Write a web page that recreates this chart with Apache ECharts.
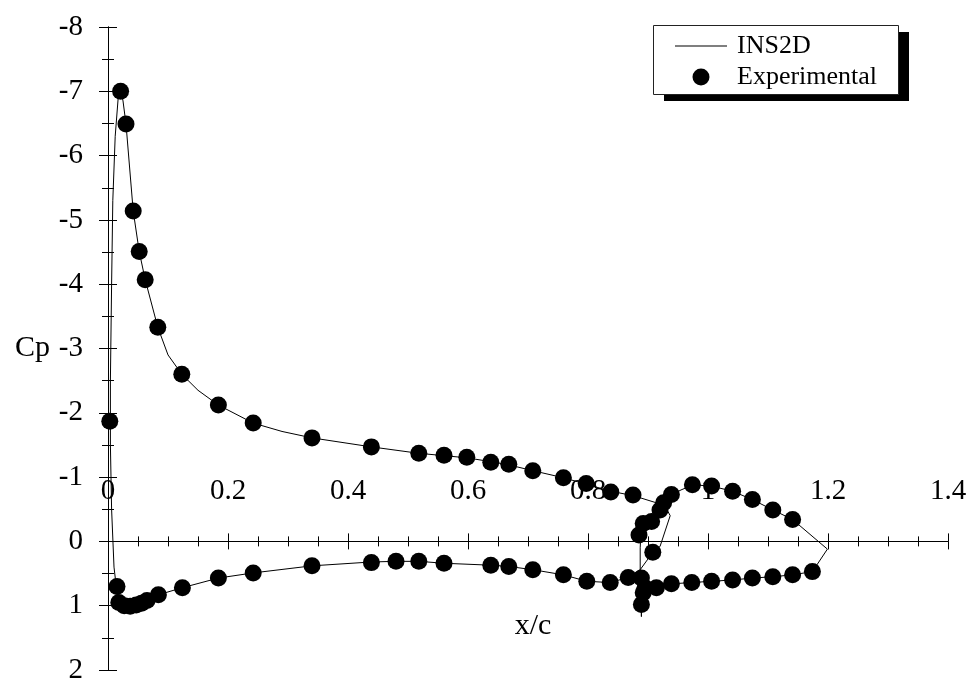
<!DOCTYPE html>
<html>
<head>
<meta charset="utf-8">
<title>Pressure distribution, main element and flap</title>
<script src="https://cdn.jsdelivr.net/npm/echarts@6/dist/echarts.min.js"></script>
<style>
  html, body { margin: 0; padding: 0; background: #ffffff; }
  #chart { width: 975px; height: 681px; }
</style>
</head>
<body>
<div id="chart"></div>
<script>
// Axis ranges and tick spacing
const xTicks = { min: 0, max: 1.4, interval: 0.2 };
const cpTicks = { min: -8, max: 2, interval: 1 };

// INS2D computed Cp around the main element (lower surface from trailing edge, round the nose, back along upper surface)
const ins2dMain = [
  [0.937, -0.40], [0.920, 0.08], [0.908, 0.17], [0.887, 0.44], [0.867, 0.56],
  [0.837, 0.64], [0.798, 0.62], [0.759, 0.52], [0.708, 0.44], [0.668, 0.39],
  [0.638, 0.37], [0.560, 0.34], [0.518, 0.31], [0.480, 0.31], [0.439, 0.32],
  [0.340, 0.38], [0.242, 0.49], [0.184, 0.57], [0.124, 0.72], [0.084, 0.83],
  [0.060, 0.94], [0.040, 1.00], [0.025, 0.99], [0.015, 0.80], [0.010, 0.40],
  [0.006, -0.50], [0.004, -1.50], [0.004, -2.50], [0.006, -4.00], [0.008, -5.30],
  [0.012, -6.30], [0.017, -6.90], [0.021, -7.03], [0.025, -6.85], [0.030, -6.49],
  [0.042, -5.14], [0.052, -4.51], [0.062, -4.07], [0.083, -3.33], [0.100, -2.90],
  [0.123, -2.60], [0.150, -2.35], [0.184, -2.12], [0.242, -1.84], [0.290, -1.71],
  [0.340, -1.61], [0.439, -1.47], [0.518, -1.37], [0.598, -1.30], [0.638, -1.24],
  [0.668, -1.19], [0.708, -1.10], [0.759, -0.99], [0.797, -0.89], [0.838, -0.78],
  [0.876, -0.71], [0.914, -0.60], [0.930, -0.52], [0.937, -0.40]
];

// INS2D computed Cp around the flap (from the stagnation point, upper surface first)
const ins2dFlap = [
  [0.889, 1.17], [0.888, 0.90], [0.887, 0.50], [0.887, 0.10], [0.888, -0.10],
  [0.893, -0.25], [0.905, -0.33], [0.918, -0.47], [0.928, -0.62], [0.940, -0.73],
  [0.955, -0.80], [0.975, -0.88], [1.006, -0.86], [1.041, -0.78], [1.074, -0.65],
  [1.108, -0.49], [1.141, -0.34], [1.199, 0.12], [1.174, 0.47], [1.141, 0.52],
  [1.108, 0.55], [1.074, 0.57], [1.041, 0.60], [1.006, 0.62], [0.973, 0.64],
  [0.939, 0.66], [0.914, 0.70], [0.897, 0.72], [0.890, 0.85], [0.889, 1.17]
];

// Measured pressure taps: main element upper surface
const expMainUpper = [
  [0.003, -1.87], [0.021, -7.00], [0.030, -6.49], [0.042, -5.14], [0.052, -4.51],
  [0.062, -4.07], [0.083, -3.33], [0.123, -2.60], [0.184, -2.12], [0.242, -1.84],
  [0.340, -1.61], [0.439, -1.47], [0.518, -1.37], [0.560, -1.34], [0.598, -1.31],
  [0.638, -1.23], [0.668, -1.20], [0.708, -1.10], [0.759, -0.99], [0.797, -0.90],
  [0.838, -0.77], [0.875, -0.72]
];

// Measured pressure taps: main element lower surface
const expMainLower = [
  [0.015, 0.70], [0.018, 0.95], [0.027, 1.00], [0.037, 1.01], [0.047, 0.99],
  [0.056, 0.96], [0.065, 0.92], [0.084, 0.83], [0.124, 0.72], [0.184, 0.57],
  [0.242, 0.49], [0.340, 0.38], [0.439, 0.33], [0.480, 0.31], [0.518, 0.31],
  [0.560, 0.34], [0.638, 0.37], [0.668, 0.39], [0.708, 0.44], [0.759, 0.52],
  [0.798, 0.62], [0.837, 0.64], [0.867, 0.56], [0.908, 0.17]
];

// Measured pressure taps: flap upper and lower surfaces
const expFlapUpper = [
  [0.885, -0.10], [0.892, -0.28], [0.906, -0.31], [0.920, -0.49], [0.926, -0.60],
  [0.939, -0.73], [0.974, -0.88], [1.006, -0.86], [1.041, -0.78], [1.074, -0.65],
  [1.108, -0.49], [1.141, -0.34]
];
const expFlapLower = [
  [0.889, 0.98], [0.892, 0.80], [0.889, 0.57], [0.895, 0.72], [0.914, 0.72],
  [0.939, 0.66], [0.973, 0.64], [1.006, 0.62], [1.041, 0.60], [1.074, 0.57],
  [1.108, 0.55], [1.141, 0.52], [1.174, 0.47]
];

const serif = '"Liberation Serif", "Times New Roman", serif';
const ink = '#000000';

// Plot area inside the 975 x 681 canvas
const gridBox = { left: 108, right: 27, top: 27, bottom: 11 };
const plotHeight = 681 - gridBox.top - gridBox.bottom;
// Lift of the labelled x axis from the bottom edge (Cp = 2) up to the Cp = 0 line
const zeroLift = plotHeight * (cpTicks.max - 0) / (cpTicks.max - cpTicks.min);

// Legend frame: a white box with a hard black drop shadow
const legendBox = { left: 653, top: 25, width: 245, height: 69, shadowDx: 11, shadowDy: 7 };

const chart = echarts.init(document.getElementById('chart'), null, { renderer: 'canvas' });

const xLineOnZero = { show: true, onZero: true, onZeroAxisIndex: 0, lineStyle: { color: ink, width: 1 } };
const yLine = { show: true, onZero: false, lineStyle: { color: ink, width: 1 } };

chart.setOption({
  backgroundColor: '#ffffff',
  animation: false,
  grid: Object.assign({ containLabel: false, outerBoundsMode: 'none' }, gridBox),
  graphic: [
    {
      type: 'rect', z: 5, silent: true,
      shape: { x: legendBox.left + legendBox.shadowDx, y: legendBox.top + legendBox.shadowDy,
               width: legendBox.width, height: legendBox.height },
      style: { fill: '#000000' }
    },
    {
      type: 'rect', z: 6, silent: true,
      shape: { x: legendBox.left + 0.5, y: legendBox.top + 0.5,
               width: legendBox.width, height: legendBox.height },
      style: { fill: '#ffffff', stroke: '#222222', lineWidth: 1 }
    }
  ],
  legend: {
    z: 10,
    orient: 'vertical',
    left: legendBox.left,
    top: legendBox.top,
    padding: [8, 17, 4, 22],
    itemGap: 5,
    itemWidth: 52,
    itemHeight: 17,
    textStyle: { fontFamily: serif, fontSize: 26, color: ink, padding: [0, 0, 0, 5] },
    data: [
      { name: 'INS2D', icon: 'path://M0,0L52,0L52,1L0,1Z' },
      { name: 'Experimental', icon: 'circle' }
    ]
  },
  xAxis: [
    {
      // Axis carrying the data; sits on Cp = 0 with ticks pointing up
      type: 'value',
      position: 'bottom',
      min: xTicks.min, max: xTicks.max, interval: xTicks.interval,
      axisLine: xLineOnZero,
      axisTick: { show: true, inside: true, length: 8, lineStyle: { color: ink } },
      minorTick: { show: true, splitNumber: 4, length: 5, lineStyle: { color: ink } },
      axisLabel: { show: false },
      splitLine: { show: false }
    },
    {
      // Labelled axis on the same line: labels above, ticks pointing down, title below
      type: 'value',
      position: 'bottom',
      offset: -zeroLift,
      min: xTicks.min, max: xTicks.max, interval: xTicks.interval,
      name: 'x/c',
      nameLocation: 'middle',
      nameGap: 70,
      nameTextStyle: { fontFamily: serif, fontSize: 30, color: ink, padding: [0, 0, 0, 10] },
      axisLine: { show: true, onZero: false, lineStyle: { color: ink, width: 1 } },
      axisTick: { show: true, length: 8, lineStyle: { color: ink } },
      minorTick: { show: true, splitNumber: 4, length: 5, lineStyle: { color: ink } },
      axisLabel: { inside: true, fontFamily: serif, fontSize: 29, color: ink, margin: 36 },
      splitLine: { show: false }
    }
  ],
  yAxis: [
    {
      type: 'value',
      position: 'left',
      inverse: true,
      min: cpTicks.min, max: cpTicks.max, interval: cpTicks.interval,
      name: 'Cp',
      nameLocation: 'middle',
      nameRotate: 0,
      nameGap: 58,
      nameTextStyle: { fontFamily: serif, fontSize: 30, color: ink },
      axisLine: yLine,
      axisTick: { show: true, length: 9, lineStyle: { color: ink } },
      minorTick: { show: true, splitNumber: 2, length: 6, lineStyle: { color: ink } },
      axisLabel: { fontFamily: serif, fontSize: 29, color: ink, margin: 25 },
      splitLine: { show: false }
    },
    {
      // Companion axis on x = 0 with ticks pointing into the plot
      type: 'value',
      position: 'left',
      inverse: true,
      min: cpTicks.min, max: cpTicks.max, interval: cpTicks.interval,
      axisLine: yLine,
      axisTick: { show: true, inside: true, length: 9, lineStyle: { color: ink } },
      minorTick: { show: true, splitNumber: 2, length: 6, lineStyle: { color: ink } },
      axisLabel: { show: false },
      splitLine: { show: false }
    }
  ],
  series: [
    {
      name: 'INS2D', type: 'line', xAxisIndex: 0, yAxisIndex: 0,
      data: ins2dMain, symbol: 'none', smooth: false,
      lineStyle: { color: ink, width: 1 }, itemStyle: { color: ink }, z: 3
    },
    {
      name: 'INS2D', type: 'line', xAxisIndex: 0, yAxisIndex: 0,
      data: ins2dFlap, symbol: 'none', smooth: false,
      lineStyle: { color: ink, width: 1 }, itemStyle: { color: ink }, z: 3
    },
    {
      name: 'Experimental', type: 'scatter', xAxisIndex: 0, yAxisIndex: 0,
      data: expMainUpper.concat(expMainLower, expFlapUpper, expFlapLower),
      symbol: 'circle', symbolSize: 17,
      itemStyle: { color: ink, opacity: 1 }, z: 4
    }
  ]
});
</script>
</body>
</html>
